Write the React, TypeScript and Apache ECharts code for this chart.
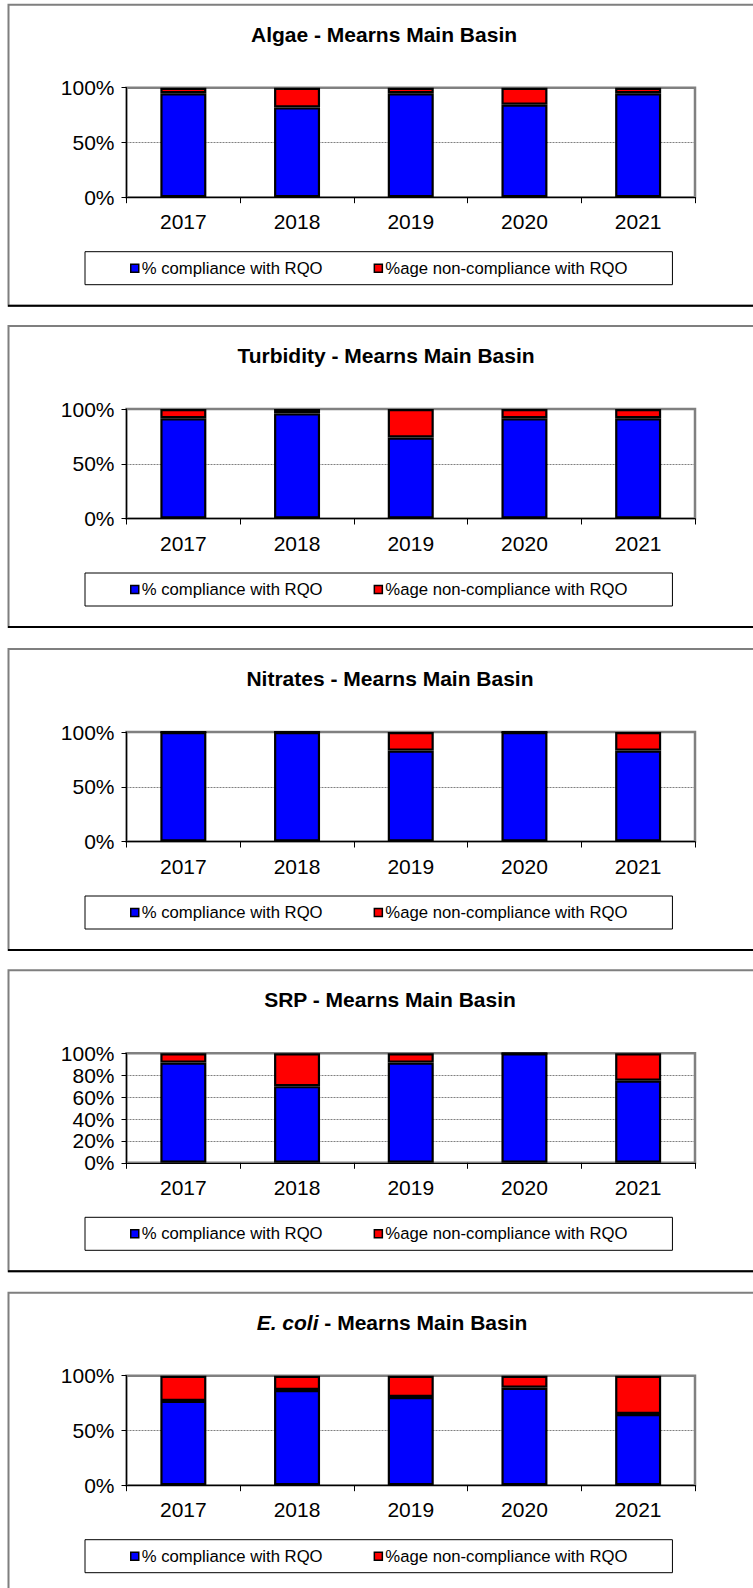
import React, { useEffect, useRef } from "react";
import * as echarts from "echarts";

const years = ["2017", "2018", "2019", "2020", "2021"];
const legendNames = ["% compliance with RQO", "%age non-compliance with RQO"];

const algaeCompliance = [95, 82, 95, 84.5, 95];
const algaeNon = [5, 18, 5, 15.5, 5];
const turbidityCompliance = [91.5, 96, 74, 91.5, 91.5];
const turbidityNon = [8.5, 4, 26, 8.5, 8.5];
const nitratesCompliance = [100, 100, 83, 100, 83];
const nitratesNon = [0, 0, 17, 0, 17];
const srpCompliance = [91.5, 70, 91.5, 100, 75];
const srpNon = [8.5, 30, 8.5, 0, 25];
const ecoliCompliance = [77, 87, 80.5, 89, 65];
const ecoliNon = [23, 13, 19.5, 11, 35];

const titles = [
  "Algae - Mearns Main Basin",
  "Turbidity - Mearns Main Basin",
  "Nitrates - Mearns Main Basin",
  "SRP - Mearns Main Basin",
  "{i|E. coli}{b| - Mearns Main Basin}",
];
const yIntervals = [50, 50, 50, 20, 50];

const panels = [
  { c: algaeCompliance, n: algaeNon },
  { c: turbidityCompliance, n: turbidityNon },
  { c: nitratesCompliance, n: nitratesNon },
  { c: srpCompliance, n: srpNon },
  { c: ecoliCompliance, n: ecoliNon },
];

const FONT = "'Liberation Sans', Arial, sans-serif";
const panelTops = [4.7, 326, 649, 970.3, 1292.7];
const titleCenters = [384, 386, 390, 390, 392];

export default function App() {
  const ref = useRef<HTMLDivElement>(null);
  useEffect(() => {
    if (!ref.current) return;
    const chart = echarts.init(ref.current, null, { renderer: "svg" });
    const grids: any[] = [];
    const xAxes: any[] = [];
    const yAxes: any[] = [];
    const series: any[] = [];
    const title: any[] = [];
    const legend: any[] = [];
    const graphic: any[] = [];

    panels.forEach((p, i) => {
      const top = panelTops[i];
      graphic.push({
        type: "rect",
        z: -10,
        shape: { x: 8.5, y: top, width: 770, height: 301 },
        style: { fill: "#fff", stroke: "#7f7f7f", lineWidth: 2 },
      });
      graphic.push({
        type: "line",
        z: -9,
        shape: { x1: 8, y1: top + 301, x2: 760, y2: top + 301 },
        style: { stroke: "#000", lineWidth: 2 },
      });
      grids.push({
        left: 126.5,
        width: 568.5,
        top: top + 83,
        height: 109.5,
        show: true,
        backgroundColor: "#fff",
        borderColor: "#808080",
        borderWidth: 2.5,
      });
      xAxes.push({
        type: "category",
        gridIndex: i,
        data: years,
        axisLine: { lineStyle: { color: "#000", width: 1 } },
        axisTick: { show: true, length: 6, lineStyle: { color: "#000" } },
        axisLabel: { fontSize: 21, color: "#000", margin: 14, fontFamily: FONT },
      });
      yAxes.push({
        type: "value",
        gridIndex: i,
        min: 0,
        max: 100,
        interval: yIntervals[i],
        axisLine: { show: true, lineStyle: { color: "#000", width: 1 } },
        axisTick: { show: true, length: 5, lineStyle: { color: "#000" } },
        axisLabel: {
          formatter: "{value}%",
          fontSize: 21,
          color: "#000",
          margin: 12,
          fontFamily: FONT,
        },
        splitLine: { show: true, lineStyle: { color: "#808080", type: [2, 1], width: 1 } },
      });
      series.push({
        type: "bar",
        name: legendNames[0],
        xAxisIndex: i,
        yAxisIndex: i,
        stack: "s" + i,
        barWidth: 46,
        data: p.c,
        itemStyle: { color: "#0000FF", borderColor: "#000", borderWidth: 2.2 },
      });
      series.push({
        type: "bar",
        name: legendNames[1],
        xAxisIndex: i,
        yAxisIndex: i,
        stack: "s" + i,
        barWidth: 46,
        data: p.n,
        itemStyle: { color: "#FF0000", borderColor: "#000", borderWidth: 2.2 },
      });
      title.push({
        text: titles[i],
        left: titleCenters[i],
        textAlign: "center",
        top: top + 31 - 12,
        padding: 0,
        textStyle: {
          fontFamily: FONT,
          fontSize: 21,
          fontWeight: "bold",
          color: "#000",
          rich: {
            i: { fontFamily: FONT, fontSize: 21, fontWeight: "bold", fontStyle: "italic", color: "#000" },
            b: { fontFamily: FONT, fontSize: 21, fontWeight: "bold", color: "#000" },
          },
        },
      });
      legend.push({
        data: legendNames,
        left: 85,
        top: top + 247,
        padding: [8, 45, 8, 45],
        borderColor: "#000",
        borderWidth: 1,
        backgroundColor: "#fff",
        itemWidth: 8,
        itemHeight: 8,
        itemGap: 51,
        icon: "rect",
        selectedMode: false,
        itemStyle: { borderColor: "#000", borderWidth: 1.5 },
        textStyle: { fontSize: 16.7, color: "#000", fontFamily: FONT, padding: [0, 0, 0, -2] },
      });
    });

    chart.setOption({
      animation: false,
      backgroundColor: "#fff",
      title,
      legend,
      grid: grids,
      xAxis: xAxes,
      yAxis: yAxes,
      series,
      graphic,
    });
    return () => chart.dispose();
  }, []);
  return (
    <div
      ref={ref}
      style={{ position: "absolute", left: 0, top: 0, width: 753, height: 1588 }}
    />
  );
}
